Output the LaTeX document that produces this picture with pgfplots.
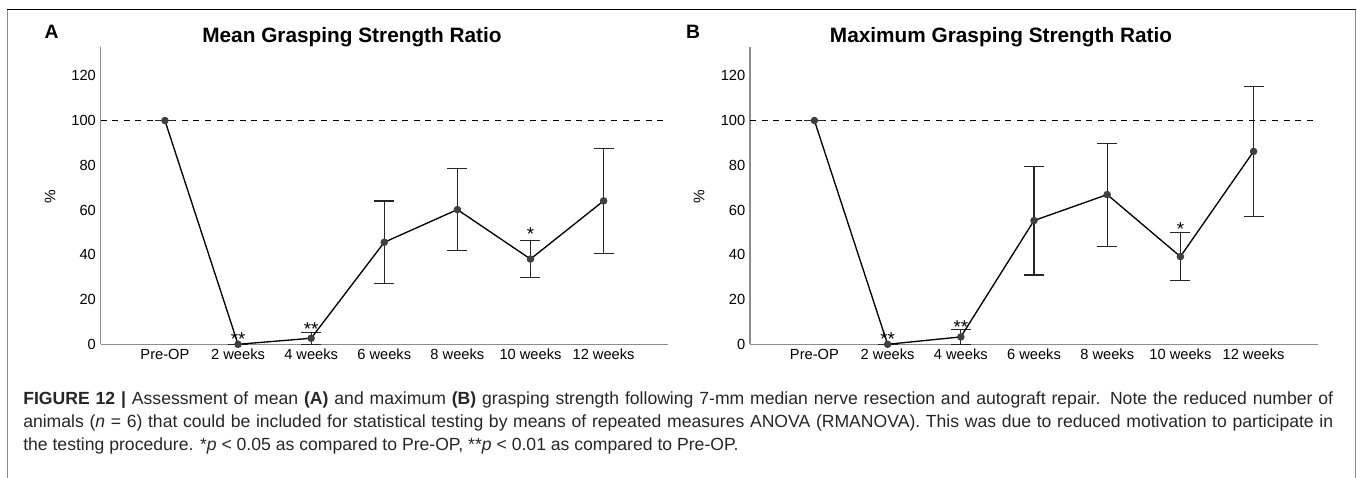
\documentclass[border=0pt]{standalone}
\usepackage{pgfplots}
\pgfplotsset{compat=1.18}
\usepackage{pgfplotstable}
\usepackage{fontspec}
\setmainfont{Liberation Sans}

% x  y  upper-error  lower-error
\pgfplotstableread{
x y ep em
0 100 0 0
1 0 0 0
2 2.7 2.7 2.7
3 45.6 18.4 18.6
4 60.2 18.2 18.2
5 38.1 8.2 8.1
6 64.1 23.4 23.4
}\meandata
\pgfplotstableread{
x y ep em
0 100 0 0
1 0 0 0
2 3.3 3.2 3.3
3 55.3 24.1 24.3
4 66.9 22.7 23.2
5 39.2 10.6 10.7
6 86.2 29.0 29.1
}\maxdata

\tikzset{starlbl/.style={anchor=base, font=\fontsize{14}{14}\selectfont, inner sep=0pt}}

\pgfplotsset{
  gsr/.style={
    scale only axis,
    width=425.5pt, height=223.2pt,
    xmin=-0.88, xmax=6.88, ymin=0, ymax=133,
    axis x line*=bottom, axis y line*=left,
    axis line style={-, draw=black!45, line width=0.8pt},
    xtick={0,...,6},
    xticklabels={Pre-OP,2 weeks,4 weeks,6 weeks,8 weeks,10 weeks,12 weeks},
    ytick={0,20,...,120},
    major tick length=0pt,
    tick label style={font=\fontsize{11}{12}\selectfont, text=black},
    /pgf/number format/assume math mode=true,
    clip=false,
  },
  ebars/.style={
    only marks, mark=none, forget plot,
    error bars/.cd, y dir=both, y explicit,
    error bar style={draw=black!85, line width=0.9pt},
    error mark options={rotate=90, mark size=7.5pt, draw=black!85, line width=0.9pt},
  },
  mainline/.style={
    black, line width=1pt, mark=*, mark size=2.3pt,
    mark options={fill=black!75, draw=black!75},
  },
}

\begin{document}
\begin{tikzpicture}
\begin{scope}[x=0.75pt,y=0.75pt]
\path[use as bounding box] (0,0) rectangle (1357,478);
% frame
\draw[black!45, line width=1.1pt] (7.7,0) -- (7.7,468.7);
\draw[black!45, line width=1.1pt] (1355.3,0) -- (1355.3,468.7);
\draw[black, line width=1.1pt] (7.2,468.7) -- (1355.8,468.7);
% titles
\node[font=\bfseries\fontsize{14.5}{16}\selectfont, anchor=base] at (51.5,439) {A};
\node[font=\bfseries\fontsize{15.6}{17}\selectfont, anchor=base] at (352,435.3) {Mean Grasping Strength Ratio};
\node[font=\fontsize{11.5}{12}\selectfont, rotate=90] at (50,281) {\%};
\node[font=\bfseries\fontsize{14.5}{16}\selectfont, anchor=base] at (693,439) {B};
\node[font=\bfseries\fontsize{15.6}{17}\selectfont, anchor=base] at (1001,435.3) {Maximum Grasping Strength Ratio};
\node[font=\fontsize{11.5}{12}\selectfont, rotate=90] at (699,281) {\%};
% caption
\node[anchor=base west, text width=982.5pt, align=justify, inner sep=0pt,
      font=\fontsize{13.2}{17.25}\selectfont, text=black!85] at (23,73)
{\textbf{FIGURE 12 |} Assessment of mean \textbf{(A)} and maximum \textbf{(B)} grasping strength following 7-mm median nerve resection and autograft repair. Note the reduced number of\linebreak
animals (\textit{n} = 6) that could be included for statistical testing by means of repeated measures ANOVA (RMANOVA). This was due to reduced motivation to participate in\linebreak
the testing procedure. *\textit{p} < 0.05 as compared to Pre-OP, **\textit{p} < 0.01 as compared to Pre-OP.};
\end{scope}

% panel A
\begin{axis}[gsr, at={(75.45pt,100.275pt)}, anchor=south west]
  \addplot[black, line width=0.8pt, dash pattern=on 4.5pt off 4.2pt, forget plot] coordinates {(-0.88,100) (6.88,100)};
  \addplot[ebars] table[x=x, y=y, y error plus=ep, y error minus=em] {\meandata};
  \addplot[mainline] table[x=x, y=y] {\meandata};
  \node[starlbl] at (axis cs:1,-0.7) {**};
  \node[starlbl] at (axis cs:2,3.8) {**};
  \node[starlbl] at (axis cs:5,46.3) {*};
\end{axis}

% panel B
\begin{axis}[gsr, at={(562.5pt,100.275pt)}, anchor=south west, width=426pt]
  \addplot[black, line width=0.8pt, dash pattern=on 4.5pt off 4.2pt, forget plot] coordinates {(-0.88,100) (6.88,100)};
  \addplot[ebars] table[x=x, y=y, y error plus=ep, y error minus=em] {\maxdata};
  \addplot[mainline] table[x=x, y=y] {\maxdata};
  \node[starlbl] at (axis cs:1,-0.7) {**};
  \node[starlbl] at (axis cs:2,4.8) {**};
  \node[starlbl] at (axis cs:5,48.4) {*};
\end{axis}
\end{tikzpicture}
\end{document}
